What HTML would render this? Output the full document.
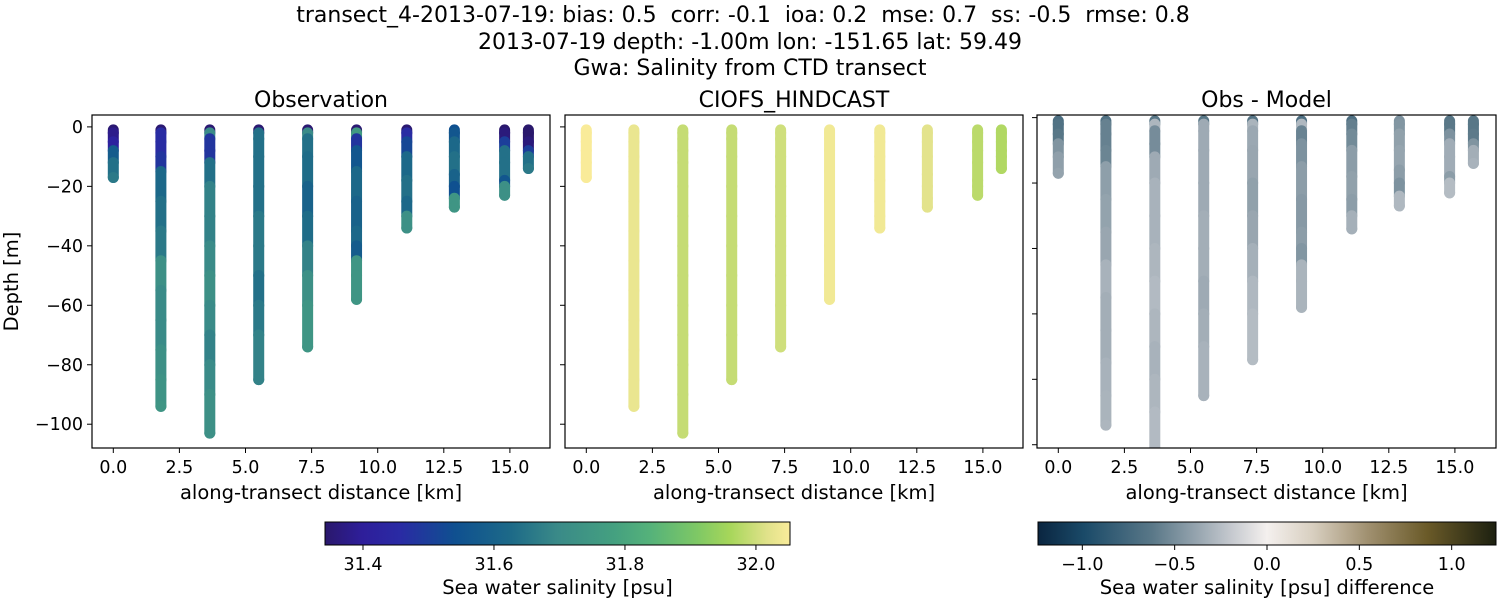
<!DOCTYPE html>
<html><head><meta charset="utf-8">
<style>
body{margin:0;background:#fff;}
svg{display:block;font-family:"DejaVu Sans","Liberation Sans",sans-serif;}
text{white-space:pre;}
</style></head>
<body>
<svg id="chart" width="1500" height="600" xmlns="http://www.w3.org/2000/svg">
<defs>
<linearGradient id="haline" x1="0" x2="1" y1="0" y2="0">
<stop offset="0" stop-color="#2a186c"/><stop offset="0.08" stop-color="#2e1e9a"/><stop offset="0.16" stop-color="#2a2aa4"/><stop offset="0.28" stop-color="#0f5090"/><stop offset="0.4" stop-color="#1d6a88"/><stop offset="0.5" stop-color="#3a8a88"/><stop offset="0.62" stop-color="#44a080"/><stop offset="0.7" stop-color="#55b27a"/><stop offset="0.8" stop-color="#7ec865"/><stop offset="0.87" stop-color="#a6d65a"/><stop offset="0.95" stop-color="#e0e28a"/><stop offset="1" stop-color="#faec9a"/>
</linearGradient>
<linearGradient id="diffg" x1="0" x2="1" y1="0" y2="0">
<stop offset="0" stop-color="#0a2540"/><stop offset="0.1" stop-color="#1a4a68"/><stop offset="0.25" stop-color="#5a7888"/><stop offset="0.35" stop-color="#98a6b0"/><stop offset="0.42" stop-color="#c4c8ce"/><stop offset="0.5" stop-color="#f4f0ee"/><stop offset="0.6" stop-color="#d8cfc0"/><stop offset="0.72" stop-color="#a09070"/><stop offset="0.85" stop-color="#6a5a28"/><stop offset="1" stop-color="#1c2010"/>
</linearGradient>
</defs>
<g font-size="22" text-anchor="middle" fill="#000">
<text x="743" y="22" xml:space="preserve">transect_4-2013-07-19: bias: 0.5  corr: -0.1  ioa: 0.2  mse: 0.7  ss: -0.5  rmse: 0.8</text>
<text x="750" y="49">2013-07-19 depth: -1.00m lon: -151.65 lat: 59.49</text>
<text x="750" y="75">Gwa: Salinity from CTD transect</text>
</g>
<g id="panels"></g>
<g id="cbars"></g>
</svg>
<script>
// ---- data ----
const stationKm = [0.0, 1.8, 3.65, 5.5, 7.35, 9.2, 11.1, 12.9, 14.8, 15.7];
const stationDepths = [
 [1,2,5,8,12,17],
 [1,2,5,10,15,25,35,45,55,65,75,85,94],
 [1,2,4,8,12,20,30,40,50,60,70,80,90,103],
 [1,2,4,10,20,30,40,50,60,70,85],
 [1,2,4,10,20,30,40,50,60,74],
 [1,2,4,8,15,25,35,40,45,50,58],
 [1,2,5,10,18,25,30,34],
 [1,2,5,10,16,20,24,27],
 [1,2,5,8,12,18,20,23],
 [1,2,5,8,10,14]
];
const obsValues = [
 [31.35,31.38,31.42,31.58,31.64,31.66],
 [31.35,31.46,31.46,31.48,31.62,31.64,31.66,31.72,31.70,31.70,31.72,31.73,31.74],
 [31.35,31.70,31.48,31.48,31.64,31.68,31.68,31.70,31.72,31.70,31.68,31.70,31.72,31.72],
 [31.35,31.64,31.64,31.64,31.64,31.66,31.66,31.64,31.66,31.68,31.68],
 [31.35,31.70,31.64,31.63,31.60,31.63,31.68,31.72,31.74,31.74],
 [31.35,31.76,31.48,31.56,31.62,31.60,31.62,31.58,31.74,31.74,31.74],
 [31.35,31.46,31.52,31.62,31.64,31.62,31.72,31.72],
 [31.54,31.56,31.62,31.64,31.60,31.54,31.74,31.74],
 [31.34,31.36,31.50,31.64,31.64,31.56,31.72,31.72],
 [31.34,31.34,31.36,31.50,31.64,31.66]
];
const modelValues = [32.05,32.03,31.99,31.99,32.0,32.04,32.04,32.02,31.98,31.97];
const xTicks = [0,2.5,5,7.5,10,12.5,15];
const xTickLabels = ["0.0","2.5","5.0","7.5","10.0","12.5","15.0"];
const yTicks = [0,-20,-40,-60,-80,-100];
const yTickLabels = ["0","\u221220","\u221240","\u221260","\u221280","\u2212100"];
const salTicks = [31.4,31.6,31.8,32.0];
const salTickLabels = ["31.4","31.6","31.8","32.0"];
const diffTicks = [-1,-0.5,0,0.5,1];
const diffTickLabels = ["\u22121.0","\u22120.5","0.0","0.5","1.0"];

// ---- colormaps ----
const haline=[[0,[42,24,108]],[0.08,[46,30,154]],[0.16,[42,42,164]],[0.28,[15,80,144]],[0.4,[29,106,136]],[0.5,[58,138,136]],[0.62,[68,160,128]],[0.7,[85,178,122]],[0.8,[126,200,101]],[0.87,[166,214,90]],[0.95,[224,226,138]],[1,[250,236,154]]];
const diffc=[[0,[10,37,64]],[0.1,[26,74,104]],[0.25,[90,120,136]],[0.35,[152,166,176]],[0.42,[196,200,206]],[0.5,[244,240,238]],[0.6,[216,207,192]],[0.72,[160,144,112]],[0.85,[106,90,40]],[1,[28,32,16]]];
function cmap(stops,t){t=Math.max(0,Math.min(1,t));for(let i=1;i<stops.length;i++){if(t<=stops[i][0]){const a=stops[i-1],b=stops[i];const f=(t-a[0])/(b[0]-a[0]);return 'rgb('+a[1].map((v,k)=>Math.round(v+(b[1][k]-v)*f)).join(',')+')';}}return 'rgb('+stops[stops.length-1][1].join(',')+')';}
const salMin=31.342,salMax=32.052,dMin=-1.24,dMax=1.24;

const NS='http://www.w3.org/2000/svg';
function mk(tag,attrs,parent){const e=document.createElementNS(NS,tag);for(const k in attrs)e.setAttribute(k,attrs[k]);parent.appendChild(e);return e;}

const panels=[
 {x0:92,x1:550,title:'Observation',kind:'obs',yTop:4,yBot:-108,labels:true},
 {x0:565,x1:1023,title:'CIOFS_HINDCAST',kind:'model',yTop:4,yBot:-108,labels:false},
 {x0:1037,x1:1496,title:'Obs - Model',kind:'diff',yTop:0.8,yBot:-101,labels:false}
];
const axTop=115,axBot=448;
const root=document.getElementById('panels');
panels.forEach((p,pi)=>{
  const g=mk('g',{},root);
  
  
  const xs=km=>p.x0+21.3+km*26.44;
  const ys=d=>axTop+(p.yTop-d)/(p.yTop-p.yBot)*(axBot-axTop);
  const clipId='clip'+pi;
  const cp=mk('clipPath',{id:clipId},g);mk('rect',{x:p.x0,y:axTop,width:p.x1-p.x0,height:axBot-axTop},cp);
  const marks=mk('g',{'clip-path':'url(#'+clipId+')'},g);
  
  
  stationKm.forEach((km,si)=>{
    const ds=stationDepths[si],vs=obsValues[si];
    const x=xs(km);
    for(let j=0;j<ds.length;j++){
      let v,c;
      if(p.kind==='obs'){v=vs[j];c=cmap(haline,(v-salMin)/(salMax-salMin));}
      else if(p.kind==='model'){v=modelValues[si];c=cmap(haline,(v-salMin)/(salMax-salMin));}
      else {v=vs[j]-modelValues[si];c=cmap(diffc,(v-dMin)/(dMax-dMin));}
      const d0=-ds[j], d1=-(j+1<ds.length?ds[j+1]:ds[j]);
      const ln=mk('line',{x1:x,x2:x,y1:ys(d0),y2:ys(d1),stroke:c,'stroke-width':11,'stroke-linecap':'round'},marks);
      
      
    }
  });
  const fr=mk('rect',{x:p.x0,y:axTop,width:p.x1-p.x0,height:axBot-axTop,fill:'none',stroke:'#000','stroke-width':1.2},g);
  
  
  const t=mk('text',{x:(p.x0+p.x1)/2,y:107,'font-size':22,'text-anchor':'middle'},g);t.textContent=p.title;
  
  
  xTicks.forEach((v,i)=>{const x=xs(v);mk('line',{x1:x,x2:x,y1:axBot,y2:axBot+5,stroke:'#000'},g);
    const tt=mk('text',{x:x,y:axBot+25,'font-size':17.5,'text-anchor':'middle'},g);tt.textContent=xTickLabels[i];
    
    });
  const xl=mk('text',{x:(p.x0+p.x1)/2,y:499,'font-size':19.5,'text-anchor':'middle'},g);xl.textContent='along-transect distance [km]';
  
  
  yTicks.forEach((v,i)=>{const y=ys(v);if(y<axTop-0.5||y>axBot+0.5)return;mk('line',{x1:p.x0-5,x2:p.x0,y1:y,y2:y,stroke:'#000'},g);
    if(p.labels){const tt=mk('text',{x:p.x0-9,y:y+6,'font-size':17.5,'text-anchor':'end'},g);tt.textContent=yTickLabels[i];
    
    }});
  if(p.labels){const yl=mk('text',{x:18,y:(axTop+axBot)/2,'font-size':19.5,'text-anchor':'middle',transform:'rotate(-90 18 '+(axTop+axBot)/2+')'},g);yl.textContent='Depth [m]';
    
    }
});
// colorbars
const cb=document.getElementById('cbars');
function cbar(x0,x1,vmin,vmax,grad,ticks,labels,title,name){
  const g=mk('g',{},cb);
  
  
  mk('rect',{x:x0,y:522,width:x1-x0,height:23,fill:'url(#'+grad+')',stroke:'#000','stroke-width':1},g);
  ticks.forEach((v,i)=>{const x=x0+(v-vmin)/(vmax-vmin)*(x1-x0);mk('line',{x1:x,x2:x,y1:545,y2:550,stroke:'#000'},g);
    const t=mk('text',{x:x,y:570,'font-size':17.5,'text-anchor':'middle'},g);t.textContent=labels[i];
    
    });
  const t=mk('text',{x:(x0+x1)/2,y:594,'font-size':19.5,'text-anchor':'middle'},g);t.textContent=title;
  
  
}
cbar(325,790,salMin,salMax,'haline',salTicks,salTickLabels,'Sea water salinity [psu]','salinity-colorbar');
cbar(1038,1496,dMin,dMax,'diffg',diffTicks,diffTickLabels,'Sea water salinity [psu] difference','difference-colorbar');
</script>
</body></html>
